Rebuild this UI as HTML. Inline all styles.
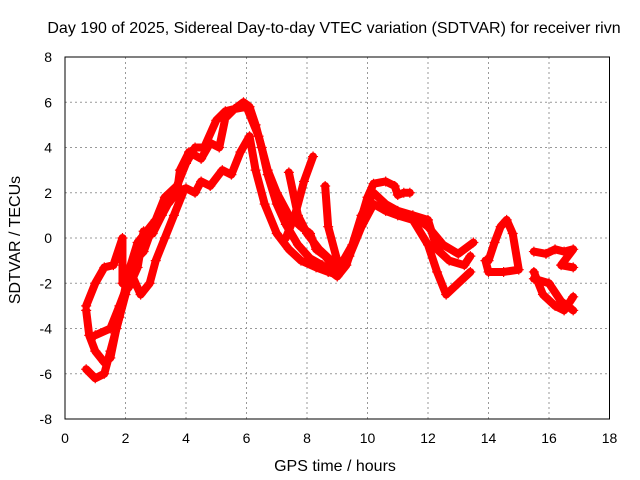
<!DOCTYPE html>
<html><head><meta charset="utf-8"><style>
body{margin:0;background:#fff}
svg{display:block;font-family:"Liberation Sans",sans-serif}
</style></head><body>
<svg id="chart" width="640" height="480">
<text x="334" y="33" text-anchor="middle" font-size="16">Day 190 of 2025, Sidereal Day-to-day VTEC variation (SDTVAR) for receiver rivn</text>
<g id="grid"></g>
<g id="series"></g>
<rect x="65" y="57" width="544.5" height="362" fill="none" stroke="#000"/>
<g id="ticks"></g>
<text x="335" y="471" text-anchor="middle" font-size="16">GPS time / hours</text>
<text transform="translate(20,240) rotate(-90)" text-anchor="middle" font-size="16">SDTVAR / TECUs</text>
</svg>
<script>
const xTicks=[0,2,4,6,8,10,12,14,16,18];
const yTicks=[-8,-6,-4,-2,0,2,4,6,8];
const trace1=[[0.7,-5.8],[1.0,-6.2],[1.3,-6.0],[1.5,-5.0],[1.8,-3.5],[2.1,-1.5],[2.4,-0.2],[2.7,0.3],[3.0,0.8],[3.3,1.8],[3.7,2.3],[4.0,3.3],[4.3,4.0],[4.6,4.0],[5.0,5.2],[5.3,5.6],[5.6,5.7],[5.9,6.0],[6.1,5.8],[6.3,5.0],[6.5,4.0],[6.7,2.8],[7.0,1.5],[7.3,0.6],[7.7,-0.3],[8.1,-0.9],[8.5,-1.2],[8.8,-1.5],[9.0,-1.7],[9.3,-1.2],[9.6,0.0],[10.0,1.8],[10.2,2.4],[10.6,2.5],[10.9,2.3],[11.0,1.9],[11.2,2.0],[11.4,2.0]];
const trace2=[[0.7,-3.2],[0.8,-4.3],[1.0,-5.0],[1.3,-5.5],[1.5,-5.3],[1.7,-4.0],[2.0,-2.5],[2.3,-1.0],[2.6,-0.6],[2.9,0.5],[3.3,1.5],[3.6,2.0],[4.0,2.2],[4.3,2.0],[4.5,2.5],[4.8,2.3],[5.2,3.0],[5.5,2.8],[5.8,3.8],[6.1,4.5],[6.3,3.0],[6.6,1.5],[7.0,0.2],[7.4,-0.5],[7.8,-1.0],[8.3,-1.3],[8.7,-1.5],[9.0,-1.6],[9.4,-0.8],[9.8,0.5],[10.2,1.5],[10.6,1.2],[11.0,1.0],[11.5,0.8],[12.0,-0.3],[12.3,-1.5],[12.6,-2.5],[13.0,-2.0],[13.4,-1.5]];
const trace3=[[0.7,-3.0],[1.0,-2.0],[1.3,-1.3],[1.6,-1.2],[1.9,0.0],[1.9,-2.0],[2.1,-2.2],[2.4,-1.3],[2.6,0.3],[2.9,0.2],[3.2,1.0],[3.4,1.5],[3.7,2.0],[3.8,3.0],[4.1,3.8],[4.5,3.5],[4.8,4.2],[5.1,4.0],[5.3,5.3],[5.6,5.7],[6.0,5.8],[6.4,4.5],[6.7,3.0],[7.0,2.0],[7.4,1.0],[7.8,0.5],[8.1,0.2],[8.3,-0.5],[8.6,-0.8],[8.9,-1.3],[9.2,-1.0],[9.5,-0.3],[9.8,1.0],[10.2,2.0],[10.6,1.5],[11.0,1.2],[11.5,1.0],[12.0,0.5],[12.5,-0.3],[13.0,-0.7],[13.5,-0.2]];
const trace4=[[1.0,-4.3],[1.5,-4.0],[1.8,-3.0],[2.2,-1.6],[2.5,-2.5],[2.8,-2.0],[3.0,-1.0],[3.3,0.0],[3.6,1.0],[3.9,2.0]];
const trace5=[[7.4,2.9],[7.7,1.0],[8.0,0.2],[8.4,-0.5],[8.8,-1.0],[9.0,-1.5]];
const trace6=[[7.3,0.0],[7.6,1.0],[7.9,2.5],[8.2,3.6]];
const trace7=[[8.6,2.3],[8.7,0.5],[9.0,-1.0]];
const trace8=[[11.5,1.0],[12.0,0.8],[12.3,-0.5],[12.7,-1.0],[13.2,-1.2],[13.4,-0.8]];
const trace9=[[14.0,-1.0],[14.2,-0.2],[14.4,0.5],[14.6,0.8],[14.8,0.2],[15.0,-1.4],[14.5,-1.5],[14.0,-1.5],[13.9,-1.0]];
const trace10=[[15.5,-0.6],[15.9,-0.7],[16.2,-0.5],[16.5,-0.6],[16.8,-0.5],[16.4,-1.2],[16.8,-1.3]];
const trace11=[[15.5,-1.5],[15.8,-2.5],[16.2,-3.0],[16.5,-3.2],[16.8,-2.6]];
const trace12=[[15.5,-1.8],[16.0,-2.0],[16.4,-2.8],[16.8,-3.2]];
const traces=[trace1,trace2,trace3,trace4,trace5,trace6,trace7,trace8,trace9,trace10,trace11,trace12];
const NS='http://www.w3.org/2000/svg';
const X=v=>65+30.25*v, Y=v=>238-22.625*v;
const grid=document.getElementById('grid'),ticks=document.getElementById('ticks'),ser=document.getElementById('series');
function mk(tag,a,p){const e=document.createElementNS(NS,tag);for(const k in a)e.setAttribute(k,a[k]);p.appendChild(e);return e;}
xTicks.forEach(t=>{
  if(t>0&&t<18){const g=mk('line',{x1:X(t),x2:X(t),y1:57,y2:419,stroke:'#999','stroke-dasharray':'2,3'},grid);
  
  }
  const l=mk('text',{x:X(t),y:443,'text-anchor':'middle','font-size':14},ticks);l.textContent=t;
  
  
});
yTicks.forEach(t=>{
  if(t>-8&&t<8){const g=mk('line',{x1:65,x2:609,y1:Y(t),y2:Y(t),stroke:'#999','stroke-dasharray':'2,3'},grid);
  
  }
  const l=mk('text',{x:52,y:Y(t)+5,'text-anchor':'end','font-size':14},ticks);l.textContent=t;
  
  
});
traces.forEach(tr=>{
  const pl=mk('polyline',{points:tr.map(p=>X(p[0])+','+Y(p[1])).join(' '),fill:'none',stroke:'#f00','stroke-width':8,'stroke-linejoin':'round','stroke-linecap':'round'},ser);
  
  
  tr.forEach(p=>{
    const m=mk('path',{d:`M${X(p[0])-5},${Y(p[1])}h10M${X(p[0])},${Y(p[1])-5}v10`,stroke:'#f00','stroke-width':1.2},ser);
    
    
  });
});
</script>
</body></html>
